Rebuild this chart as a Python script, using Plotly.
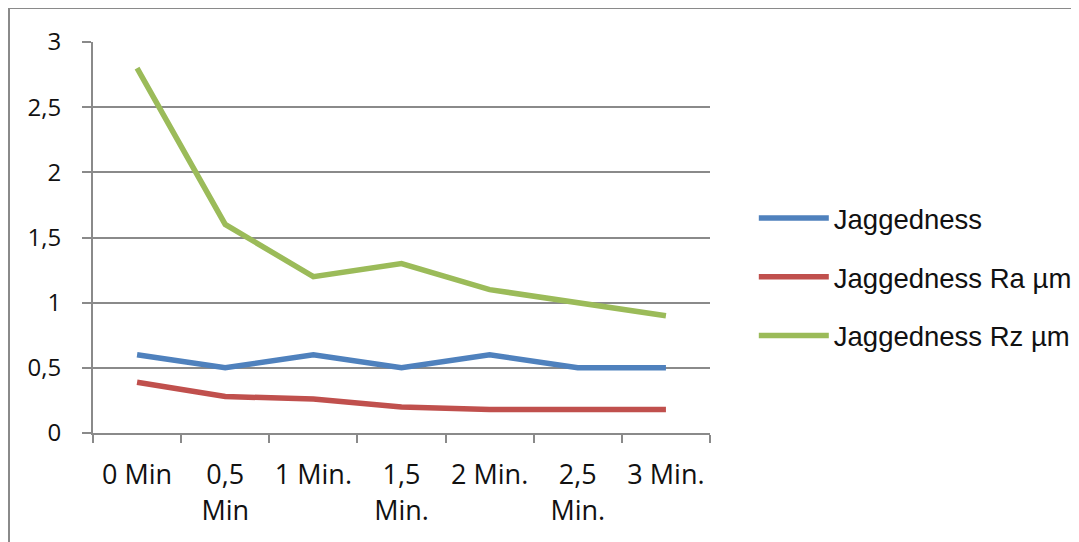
import plotly.graph_objects as go

categories = ["0 Min", "0,5<br>Min", "1 Min.", "1,5<br>Min.", "2 Min.", "2,5<br>Min.", "3 Min."]
jaggedness = [0.6, 0.5, 0.6, 0.5, 0.6, 0.5, 0.5]
jaggedness_ra = [0.39, 0.28, 0.26, 0.2, 0.18, 0.18, 0.18]
jaggedness_rz = [2.8, 1.6, 1.2, 1.3, 1.1, 1.0, 0.9]

series_names = ["Jaggedness", "Jaggedness Ra µm", "Jaggedness Rz µm"]
series_values = [jaggedness, jaggedness_ra, jaggedness_rz]
colors = ["#4F81BD", "#C0504D", "#9BBB59"]

fig = go.Figure()
for i, (name, vals, col) in enumerate(zip(series_names, series_values, colors)):
    fig.add_trace(go.Scatter(
        x=categories, y=vals, mode="lines", name=name,
        line=dict(color=col, width=5.5),
        legendgroup=f"g{i}",
    ))

grid = "#8a8a8a"
# page body has an 8px margin, so figure coords are page coords minus 8
fig.update_layout(
    width=1071, height=534,
    margin=dict(l=85, r=369, t=34, b=109, autoexpand=False),
    paper_bgcolor="white", plot_bgcolor="white",
    separators=", ",
    font=dict(family="Open Sans", color="#111111"),
    showlegend=True,
    legend=dict(
        x=1.071, xanchor="left", y=0.612, yanchor="top",
        font=dict(family="Liberation Sans, Arial", size=27.5, color="#111111"),
        traceorder="grouped", tracegroupgap=20,
        itemwidth=70,
        bgcolor="rgba(0,0,0,0)",
    ),
    xaxis=dict(
        type="category", range=[-0.5, 6.5],
        showgrid=False, showline=True, linecolor=grid, linewidth=2,
        ticks="outside", ticklen=8, tickwidth=2, tickcolor=grid,
        tickson="boundaries", tickangle=0, automargin=False,
        tickfont=dict(family="Open Sans", size=27, color="#111111"),
        ticklabelstandoff=17,
        fixedrange=True,
    ),
    yaxis=dict(
        range=[0, 3], dtick=0.5, tick0=0,
        showgrid=True, gridcolor=grid, gridwidth=2,
        showline=True, linecolor=grid, linewidth=2,
        ticks="outside", ticklen=9, tickwidth=2, tickcolor=grid,
        tickfont=dict(family="Open Sans", size=24, color="#111111"),
        ticklabelstandoff=16, automargin=False,
        zeroline=False,
    ),
    shapes=[dict(
        type="rect", xref="paper", yref="paper",
        x0=(1 - 85) / 617, x1=1.7, y0=-0.5, y1=(425 - 0) / 391,
        line=dict(color="#8a8a8a", width=2), fillcolor="rgba(0,0,0,0)", layer="below",
    )],
)

fig.write_html("out.html")
